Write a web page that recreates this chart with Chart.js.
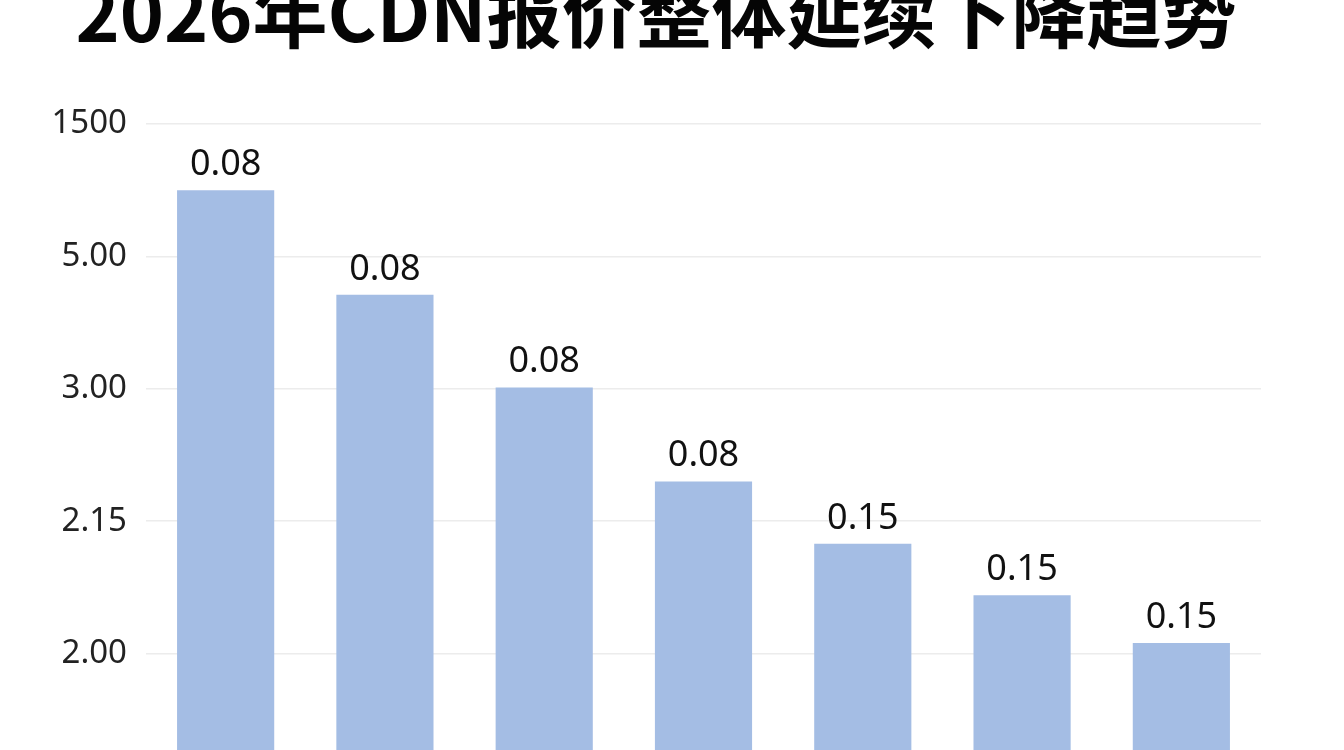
<!DOCTYPE html>
<html>
<head>
<meta charset="utf-8">
<script src="https://cdn.jsdelivr.net/npm/chart.js@4/dist/chart.umd.min.js"></script>
<style>
  html, body { margin: 0; padding: 0; background: #ffffff; overflow: hidden; width: 1344px; height: 750px; }
  #wrap { position: absolute; left: 0; top: 0; width: 1344px; height: 836px; }
</style>
</head>
<body>
<div id="wrap"><canvas id="c" width="1344" height="836" style="width:1344px;height:836px"></canvas></div>
<script>
// ---- data ----
const chartTitle = "2026年CDN报价整体延续下降趋势";
const categories = ["1", "2", "3", "4", "5", "6", "7"];
// bar heights measured in axis grid units (0 = chart bottom, each gridline = 1)
const barHeights = [4.50, 3.71, 3.01, 2.30, 1.83, 1.44, 1.08];
// printed value labels above the bars
const valueLabels = ["0.08", "0.08", "0.08", "0.08", "0.15", "0.15", "0.15"];
// tick labels from bottom gridline to top gridline
const yTickLabels = ["2.00", "2.15", "3.00", "5.00", "1500"];

const titlePlugin = {
  id: 'titleText',
  afterDraw(chart) {
    const ctx = chart.ctx;
    ctx.save();
    ctx.font = '700 75px "Noto Sans CJK SC", sans-serif';
    ctx.fillStyle = '#050505';
    ctx.textAlign = 'center';
    ctx.textBaseline = 'alphabetic';
    ctx.fillText(chartTitle, 656, 42);
    ctx.restore();
  }
};

const labelPlugin = {
  id: 'barValueLabels',
  afterDatasetsDraw(chart) {
    const ctx = chart.ctx;
    const meta = chart.getDatasetMeta(0);
    ctx.save();
    ctx.font = '400 36px "Noto Sans", sans-serif';
    ctx.fillStyle = '#111111';
    ctx.textAlign = 'center';
    ctx.textBaseline = 'alphabetic';
    meta.data.forEach((bar, i) => {
      ctx.fillText(valueLabels[i], bar.x, bar.y - 15);
    });
    ctx.restore();
  }
};

new Chart(document.getElementById('c'), {
  type: 'bar',
  data: {
    labels: categories,
    datasets: [{
      data: barHeights,
      backgroundColor: '#a4bde4',
      borderWidth: 0,
      barPercentage: 0.61,
      categoryPercentage: 1.0
    }]
  },
  options: {
    responsive: false,
    animation: false,
    layout: { padding: { left: 0, right: 83, top: 124, bottom: 50 } },
    plugins: {
      legend: { display: false },
      title: { display: false },
      tooltip: { enabled: false }
    },
    scales: {
      x: { display: false },
      y: {
        min: 0,
        max: 5,
        border: { display: false },
        grid: { color: '#ececec', lineWidth: 1.5, drawTicks: false },
        ticks: {
          stepSize: 1,
          padding: 19,
          color: '#222222',
          font: { family: '"Noto Sans", sans-serif', size: 33 },
          callback: (v) => (v >= 1 && v <= yTickLabels.length) ? yTickLabels[v - 1] : ''
        },
        afterFit(scale) { scale.width = 146; }
      }
    }
  },
  plugins: [titlePlugin, labelPlugin]
});
</script>
</body>
</html>
